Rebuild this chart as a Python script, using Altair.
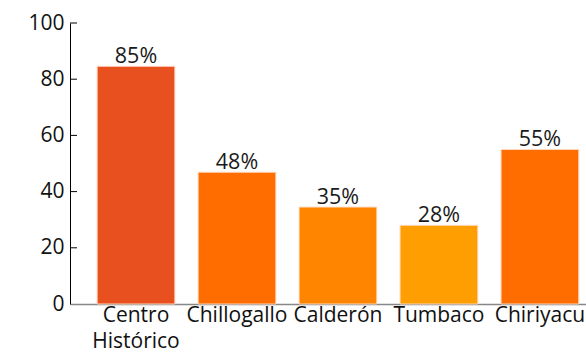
import altair as alt
import pandas as pd

categories = ["Centro Histórico", "Chillogallo", "Calderón", "Tumbaco", "Chiriyacu"]
values = [84.6, 46.9, 34.5, 28, 55]
labels = ["85%", "48%", "35%", "28%", "55%"]
colors = ["#E9501F", "#FF6D00", "#FF8400", "#FF9E00", "#FF6D00"]
y_ticks = [20, 40, 60, 80, 100]

df = pd.DataFrame({"cat": categories, "val": values, "lab": labels, "col": colors})
ticks_df = pd.DataFrame({"t": y_ticks})

FONT = "Open Sans"

x = alt.X("cat:N", sort=categories, title=None,
          scale=alt.Scale(paddingInner=0.23, paddingOuter=0.17, align=0.79),
          axis=alt.Axis(labelAngle=0, labelFont=FONT, labelFontSize=21, labelColor="#111",
                        labelExpr="datum.value == 'Centro Histórico' ? ['Centro', 'Histórico'] : datum.value",
                        labelLineHeight=26, labelPadding=0, ticks=False, domainColor="#888",
                        domainWidth=1.5, labelOverlap=False, labelBound=False, labelFlush=False))
y = alt.Y("val:Q", title=None,
          scale=alt.Scale(domain=[0, 100]),
          axis=alt.Axis(values=[0, 20, 40, 60, 80, 100], grid=False, ticks=False,
                        labelFont=FONT, labelFontSize=21, labelColor="#111", labelPadding=6,
                        domainColor="#000", domainWidth=1))

bars = alt.Chart(df).mark_bar(stroke="#FFD9C0", strokeWidth=1).encode(
    x=x, y=y, color=alt.Color("col:N", scale=None))

text = alt.Chart(df).mark_text(dy=-3, baseline="alphabetic", font=FONT, fontSize=21.5, color="#1a1a1a").encode(
    x=alt.X("cat:N", sort=categories), y="val:Q", text="lab:N")

tk = alt.Chart(ticks_df).mark_rule(color="#000", strokeWidth=1).encode(
    y=alt.Y("t:Q"), x=alt.value(0), x2=alt.value(7))

chart = alt.layer(bars, text, tk).properties(
    width=516, height=281,
    autosize=alt.AutoSizeParams(type="none"),
    padding={"left": 70, "top": 23, "right": 0, "bottom": 51},
).configure_view(stroke=None)

chart.save("out.html", embed_options={"renderer": "svg", "actions": False})
